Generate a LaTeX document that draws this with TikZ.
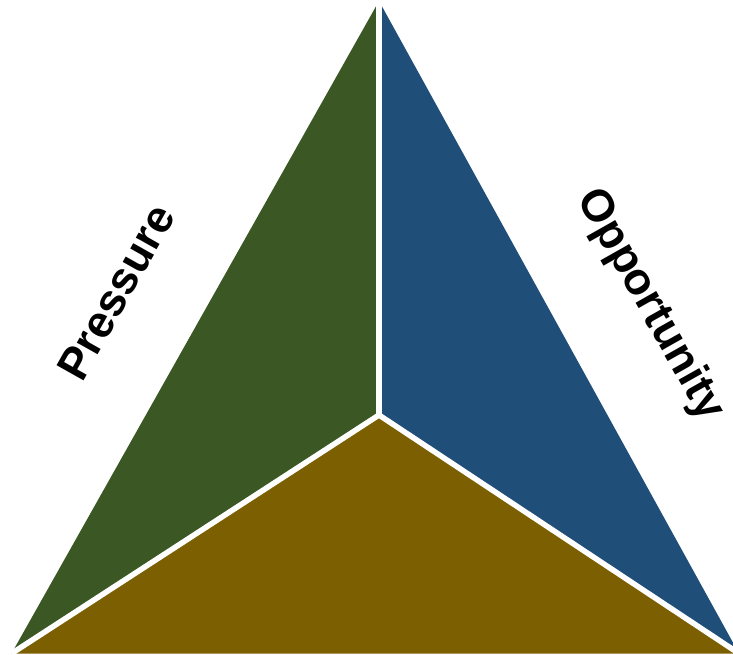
\documentclass[tikz,border=0pt]{standalone}
\usepackage{fontspec}
\setmainfont{Liberation Sans}
\definecolor{pgreen}{HTML}{3A5724}
\definecolor{pblue}{HTML}{1F4E79}
\definecolor{pbrown}{HTML}{7B5F00}
\tikzset{
  sector/.style={draw=none},
  divider/.style={draw=white, line width=5.5pt, line cap=butt},
  side label/.style={font=\bfseries\fontsize{45}{45}\selectfont, text=black, inner sep=0pt}
}
\begin{document}
\begin{tikzpicture}[x=1pt,y=-1pt]
\useasboundingbox (0,0) rectangle (733,654);
\clip (0,0) rectangle (733,654);
\fill[white] (0,0) rectangle (733,654);
\coordinate (A) at (379,1);
\coordinate (L) at (11.5,653.5);
\coordinate (R) at (739,653.5);
\coordinate (C) at (379,415);
\fill[sector, pgreen] (A) -- (L) -- (C) -- cycle;
\fill[sector, pblue] (A) -- (C) -- (R) -- cycle;
\fill[sector, pbrown] (L) -- (R) -- (C) -- cycle;
\draw[divider] (C) -- (A);
\draw[divider] (C) -- (L);
\draw[divider] (C) -- (R);
\node[side label, rotate=60.6] (pressure) at (116,292) {Pressure};
\node[side label, rotate=-60.6] (opportunity) at (650,305) {Opportunity};
\end{tikzpicture}
\end{document}
